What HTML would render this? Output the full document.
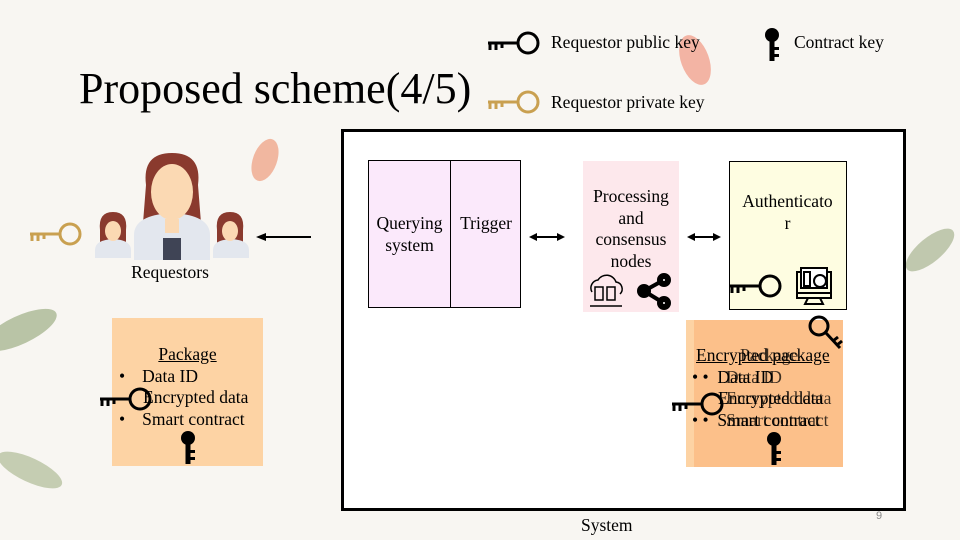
<!DOCTYPE html>
<html><head><meta charset="utf-8"><style>
body{margin:0;width:960px;height:540px;overflow:hidden;background:#f8f6f2;position:relative;font-family:"Liberation Serif",serif;color:#000}
.a{position:absolute}
.t{position:absolute;font-size:17.5px;line-height:22px;text-align:center;white-space:nowrap}
</style></head><body>
<svg class="a" style="left:0;top:0" width="960" height="540">
<defs>
<g id="hk"><line x1="0" y1="14" x2="30" y2="14" stroke-width="3"/><line x1="2" y1="14" x2="2" y2="21" stroke-width="3"/><line x1="8" y1="14" x2="8" y2="21" stroke-width="3"/><line x1="14" y1="14" x2="14" y2="19" stroke-width="3"/><circle cx="40" cy="14" r="10" fill="none" stroke-width="3"/></g>
<g id="vk"><circle cx="8" cy="8" r="7"/><rect x="5.5" y="10" width="5" height="24"/><rect x="10" y="20" width="5" height="3"/><rect x="10" y="27" width="5" height="3"/></g>
</defs>
<ellipse cx="695" cy="60" rx="14" ry="26" fill="#f3b4a4" transform="rotate(-20 695 60)"/>
<ellipse cx="265" cy="160" rx="12" ry="22" fill="#f1b7a0" transform="rotate(20 265 160)"/>
<ellipse cx="20" cy="330" rx="40" ry="14" fill="#b9c4a6" transform="rotate(-25 20 330)"/>
<ellipse cx="30" cy="470" rx="35" ry="12" fill="#c5cdb2" transform="rotate(25 30 470)"/>
<ellipse cx="930" cy="250" rx="30" ry="12" fill="#c0c8ae" transform="rotate(-40 930 250)"/>
<use href="#hk" x="488" y="29" stroke="#000"/>
<use href="#hk" x="488" y="88" stroke="#c9a050"/>
<use href="#vk" x="764" y="27" fill="#000"/>
<rect x="342.5" y="130.5" width="562" height="379" fill="#fff" stroke="#000" stroke-width="3"/>
<rect x="368.5" y="160.5" width="82" height="147" fill="#fbe9fb" stroke="#000"/>
<rect x="450.5" y="160.5" width="70" height="147" fill="#fbe9fb" stroke="#000"/>
<rect x="583" y="161" width="96" height="151" fill="#fde8ec"/>
<rect x="729.5" y="161.5" width="117" height="148" fill="#fefde1" stroke="#000"/>
<rect x="112" y="318" width="151" height="148" fill="#fdd3a4"/>
<rect x="686" y="320" width="157" height="147" fill="#fcc08a"/>
<rect x="686" y="320" width="8" height="147" fill="#fdd3a4"/>
<g stroke="#000" stroke-width="2" fill="#000">
<line x1="266" y1="237" x2="311" y2="237"/><polygon points="256,237 266,233 266,241" stroke="none"/>
<line x1="534" y1="237" x2="560" y2="237"/><polygon points="529,237 537,233 537,241" stroke="none"/><polygon points="565,237 557,233 557,241" stroke="none"/>
<line x1="692" y1="237" x2="716" y2="237"/><polygon points="687,237 695,233 695,241" stroke="none"/><polygon points="721,237 713,233 713,241" stroke="none"/>
</g>
<use href="#hk" x="30" y="220" stroke="#c9a050"/>
<use href="#hk" x="100" y="385" stroke="#000"/>
<use href="#vk" x="180" y="430" fill="#000"/>
<use href="#hk" x="730" y="272" stroke="#000"/>
<use href="#hk" x="672" y="390" stroke="#000"/>
<use href="#vk" x="766" y="431" fill="#000"/>
<g stroke="#000" stroke-width="3" fill="none"><circle cx="819" cy="326" r="9"/><line x1="826" y1="333" x2="840" y2="348"/><line x1="833" y1="341" x2="838" y2="337"/><line x1="837" y1="345" x2="842" y2="341"/></g>
<g stroke="#000" stroke-width="1.5" fill="none"><path d="M592 292 a8 8 0 0 1 6-12 a10 10 0 0 1 18 2 a7 7 0 0 1 4 12"/><rect x="595" y="287" width="8" height="13"/><rect x="607" y="287" width="8" height="13"/><line x1="590" y1="306" x2="622" y2="306"/></g>
<g fill="#000" stroke="#000" stroke-width="4"><line x1="644" y1="291" x2="662" y2="281"/><line x1="644" y1="291" x2="662" y2="302"/><circle cx="644" cy="291" r="5"/><circle cx="664" cy="280" r="5"/><circle cx="664" cy="303" r="5"/></g>
<g fill="#fff" stroke="#000" stroke-width="2"><circle cx="664" cy="280" r="2"/><circle cx="664" cy="303" r="2"/></g>
<g stroke="#000" stroke-width="2" fill="none"><rect x="797" y="272" width="34" height="26"/><line x1="797" y1="293" x2="831" y2="293"/><path d="M808 298 l-3 6 h18 l-3 -6"/><rect x="801" y="268" width="26" height="20" fill="#fff"/><rect x="804" y="272" width="6" height="14"/><circle cx="820" cy="281" r="6"/></g>
<g>
<path d="M146 185 q-4 -32 26 -32 q30 0 26 32 l3 38 h-58z" fill="#8a3a2e"/>
<path d="M134 260 v-25 q0 -20 38 -22 q38 2 38 22 v25z" fill="#e3e7ee"/>
<ellipse cx="172" cy="192" rx="21" ry="28" fill="#fbd9b3"/>
<rect x="165" y="219" width="14" height="14" fill="#fbd9b3"/>
<rect x="163" y="238" width="18" height="22" fill="#3f4455"/>
<path d="M100 230 q-2 -18 13 -18 q15 0 13 18 v14 h-26z" fill="#8a3a2e"/>
<path d="M95 258 v-8 q0 -10 18 -11 q18 1 18 11 v8z" fill="#e3e7ee"/>
<ellipse cx="113" cy="231" rx="8" ry="10" fill="#fbd9b3"/>
<path d="M217 230 q-2 -18 13 -18 q15 0 13 18 v14 h-26z" fill="#8a3a2e"/>
<path d="M213 258 v-8 q0 -10 18 -11 q18 1 18 11 v8z" fill="#e3e7ee"/>
<ellipse cx="230" cy="231" rx="8" ry="10" fill="#fbd9b3"/>
</g>
</svg>
<div class="t" style="left:79px;top:64px;font-size:44px;line-height:50px;text-align:left">Proposed scheme(4/5)</div>
<div class="t" style="left:551px;top:31px;text-align:left">Requestor public key</div>
<div class="t" style="left:551px;top:91px;text-align:left">Requestor private key</div>
<div class="t" style="left:794px;top:31px;text-align:left">Contract key</div>
<div class="t" style="left:110px;top:261px;width:120px">Requestors</div>
<div class="t" style="left:368px;top:212px;width:83px">Querying<br>system</div>
<div class="t" style="left:451px;top:212px;width:70px">Trigger</div>
<div class="t" style="left:583px;top:186px;width:96px;line-height:21.5px">Processing<br>and<br>consensus<br>nodes</div>
<div class="t" style="left:735px;top:190px;width:105px">Authenticato<br>r</div>
<div class="t" style="left:581px;top:514px;text-align:left">System</div>
<div class="t" style="left:876px;top:505px;font-size:11px;color:#888;font-family:'Liberation Sans',sans-serif">9</div>
<div class="t" style="left:112px;top:344px;width:151px;text-align:left;line-height:21.5px">
<div style="text-align:center;text-decoration:underline">Package</div>
<div style="padding-left:7px">•<span style="padding-left:17px">Data ID</span></div>
<div style="padding-left:31px">Encrypted data</div>
<div style="padding-left:7px">•<span style="padding-left:17px">Smart contract</span></div>
</div>
<div class="t" style="left:696px;top:345px;width:160px;text-align:left;line-height:21.5px">
<div style="text-decoration:underline">Encrypted package</div>
<div style="margin-left:-4px">•&nbsp;•&nbsp; Data ID</div>
<div style="padding-left:22px">Encrypted data</div>
<div style="margin-left:-4px">•&nbsp;•&nbsp; Smart contract</div>
</div>
<div class="t" style="left:740px;top:345px;text-align:left;line-height:21.5px;color:#000;opacity:.75">
<div>Package</div><div style="margin-left:-14px">Data ID</div><div style="margin-left:-14px">Encrypted data</div><div style="margin-left:-14px">Smart contract</div>
</div>
</body></html>
